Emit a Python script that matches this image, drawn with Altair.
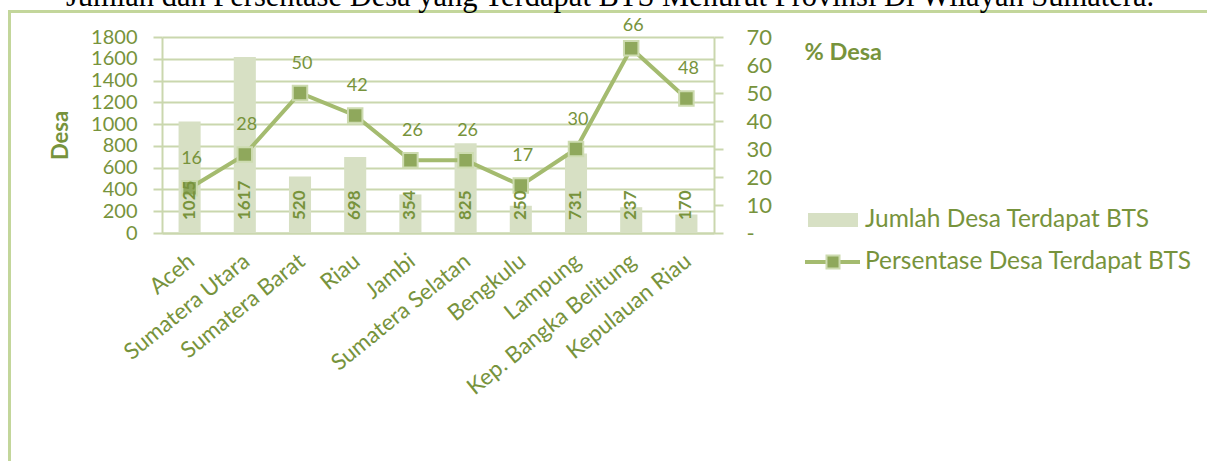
import altair as alt
import pandas as pd

# ---------------- data ----------------
provinces = ["Aceh", "Sumatera Utara", "Sumatera Barat", "Riau", "Jambi",
             "Sumatera Selatan", "Bengkulu", "Lampung", "Kep. Bangka Belitung",
             "Kepulauan Riau"]
jumlah = [1025, 1617, 520, 698, 354, 825, 250, 731, 237, 170]
persen = [16, 28, 50, 42, 26, 26, 17, 30, 66, 48]
left_ticks = [0, 200, 400, 600, 800, 1000, 1200, 1400, 1600, 1800]
right_ticks = [0, 10, 20, 30, 40, 50, 60, 70]
title_text = "Jumlah dan Persentase Desa yang Terdapat BTS Menurut Provinsi Di Wilayah Sumatera."
legend_labels = ["Jumlah Desa Terdapat BTS", "Persentase Desa Terdapat BTS"]
left_title = "Desa"
right_title = "% Desa"

df = pd.DataFrame({"prov": provinces, "jumlah": jumlah, "persen": persen})

# ---------------- layout / style ----------------
PL, PT = 162, 37          # plot origin in page pixels
W, H = 552, 196           # plot size
PR, PB = 1207 - PL - W, 461 - PT - H

def px(x):
    return x - PL

def py(y):
    return y - PT

TXT = "#77933c"
GRID = "#cad7ae"
BAR = "#d7e0c4"
LINE = "#a4bb6f"
MARK = "#8fa85c"
MARK_STROKE = "#cddbb0"
FRAME = "#c3d69b"
FONT = "Lato"

LEFT_SCALE = alt.Scale(domain=[0, 1800], nice=False, zero=True)
RIGHT_SCALE = alt.Scale(domain=[0, 70], nice=False, zero=True)

X = alt.X(
    "prov:N", sort=provinces, title=None,
    scale=alt.Scale(paddingInner=0.6, paddingOuter=0.3),
    axis=alt.Axis(
        labelAngle=321, labelAlign="right", labelBaseline="middle",
        labelFont=FONT, labelFontSize=22.5, labelColor=TXT,
        labelPadding=25, labelOffset=2, ticks=False, tickSize=0,
        domainColor=GRID, domainWidth=2, labelOverlap=False, labelLimit=400,
        grid=False,
    ),
)

# ---------------- bars (left scale) ----------------
bars = alt.Chart(df).mark_bar(color=BAR).encode(
    x=X,
    y=alt.Y(
        "jumlah:Q", scale=LEFT_SCALE,
        axis=alt.Axis(
            orient="left", values=left_ticks, format="d", grid=True,
            gridColor=GRID, gridWidth=2, labelOverlap=False,
            domainColor=GRID, domainWidth=2, tickColor=GRID, tickWidth=2, tickSize=9,
            labelFont=FONT, labelFontSize=20, labelColor=TXT, labelPadding=16,
            title=left_title, titleFont=FONT, titleFontSize=22, titleFontWeight="bold",
            titleColor=TXT, titleAngle=270, titleX=px(60), titleY=py(135),
            titleAlign="center", titleBaseline="middle",
        ),
    ),
)

bar_labels = alt.Chart(df).transform_calculate(base="0").mark_text(
    angle=270, align="left", baseline="middle", dx=13,
    font=FONT, fontSize=17, fontWeight="bold", color=TXT,
).encode(
    x=X,
    y=alt.Y("base:Q", scale=LEFT_SCALE, axis=None),
    text=alt.Text("jumlah:Q"),
)

# ---------------- line (right scale) ----------------
line = alt.Chart(df).mark_line(color=LINE, strokeWidth=4).encode(
    x=X,
    y=alt.Y(
        "persen:Q", scale=RIGHT_SCALE,
        axis=alt.Axis(
            orient="right", values=right_ticks, grid=False, labelOverlap=False,
            domainColor=GRID, domainWidth=2, tickColor=GRID, tickWidth=2, tickSize=9,
            labelFont=FONT, labelFontSize=22, labelColor=TXT, labelPadding=23,
            labelExpr="datum.value == 0 ? '-' : datum.label",
            title=right_title, titleFont=FONT, titleFontSize=23.5, titleFontWeight="bold",
            titleColor=TXT, titleAngle=0, titleX=804 - (PL + W), titleY=py(52),
            titleAlign="left", titleBaseline="middle",
        ),
    ),
)

points = alt.Chart(df).mark_square(
    size=210, filled=True, color=MARK, stroke=MARK_STROKE, strokeWidth=2, opacity=1
).encode(
    x=X,
    y=alt.Y("persen:Q", scale=RIGHT_SCALE, axis=None),
)

pct_labels = alt.Chart(df).transform_calculate(
    lab_y="min(datum.persen + 10.5, 73.8)"
).mark_text(
    align="center", baseline="middle", font=FONT, fontSize=18, color=TXT, dx=2
).encode(
    x=X,
    y=alt.Y("lab_y:Q", scale=RIGHT_SCALE, axis=None),
    text=alt.Text("persen:Q"),
)

# ---------------- decorations: title, frame, legend ----------------
tdf = pd.DataFrame({"t": [title_text]})
title = alt.Chart(tdf).mark_text(
    font="Liberation Serif", fontSize=30.5, color="#000000",
    align="center", baseline="alphabetic",
).encode(x=alt.value(px(610)), y=alt.value(py(6)), text="t:N")

frame = alt.Chart(tdf).mark_rect(
    fill=None, stroke=FRAME, strokeWidth=3, filled=False
).encode(
    x=alt.value(px(9.5)), x2=alt.value(px(1400)),
    y=alt.value(py(11.5)), y2=alt.value(py(700)),
)

l1 = pd.DataFrame({"t": [legend_labels[0]]})
l2 = pd.DataFrame({"t": [legend_labels[1]]})

leg_sw1 = alt.Chart(l1).mark_rect(color=BAR).encode(
    x=alt.value(px(808)), x2=alt.value(px(858)),
    y=alt.value(py(213)), y2=alt.value(py(227)),
)
leg_t1 = alt.Chart(l1).mark_text(
    align="left", baseline="middle", font=FONT, fontSize=24.5, color=TXT
).encode(x=alt.value(px(865)), y=alt.value(py(220)), text="t:N")

leg_line = alt.Chart(l2).mark_rule(color=LINE, strokeWidth=4).encode(
    x=alt.value(px(805)), x2=alt.value(px(860)), y=alt.value(py(262)),
)
leg_pt = alt.Chart(l2).mark_square(
    size=170, filled=True, color=MARK, stroke=MARK_STROKE, strokeWidth=2, opacity=1
).encode(x=alt.value(px(833)), y=alt.value(py(262)))
leg_t2 = alt.Chart(l2).mark_text(
    align="left", baseline="middle", font=FONT, fontSize=24.5, color=TXT
).encode(x=alt.value(px(865)), y=alt.value(py(262)), text="t:N")

chart = alt.layer(
    frame, bars, line, points, bar_labels, pct_labels,
    title, leg_sw1, leg_t1, leg_line, leg_pt, leg_t2
).resolve_scale(y="independent").properties(
    width=W, height=H,
    autosize=alt.AutoSizeParams(type="none"),
    padding={"left": PL, "top": PT, "right": PR, "bottom": PB},
    background="white",
).configure_view(stroke=None)

chart.save("out.html", embed_options={"renderer": "svg", "actions": False})
